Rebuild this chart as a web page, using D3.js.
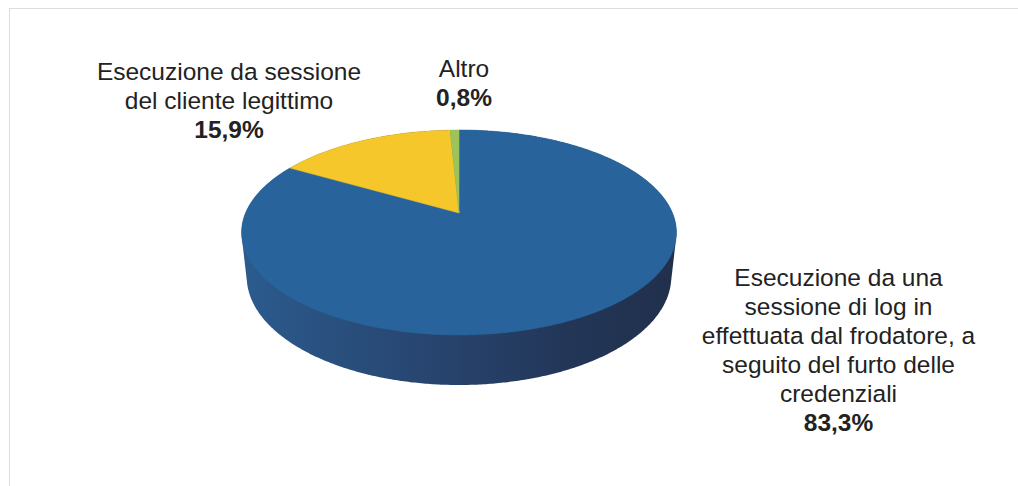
<!DOCTYPE html>
<html>
<head>
<meta charset="utf-8">
<script src="https://cdn.jsdelivr.net/npm/d3@7"></script>
<style>
  html, body { margin: 0; padding: 0; background: #ffffff; }
  svg { display: block; }
</style>
</head>
<body>
<svg id="chart" width="1018" height="486"></svg>
<script>
// ---- data ----
const categories = [
  "Esecuzione da una sessione di log in effettuata dal frodatore, a seguito del furto delle credenziali",
  "Esecuzione da sessione del cliente legittimo",
  "Altro"
];
const values = [83.3, 15.9, 0.8];
const valueLabels = ["83,3%", "15,9%", "0,8%"];
const labelLines = [
  ["Esecuzione da una", "sessione di log in", "effettuata dal frodatore, a", "seguito del furto delle", "credenziali"],
  ["Esecuzione da sessione", "del cliente legittimo"],
  ["Altro"]
];

// ---- styles / layout (not data) ----
const colors = ["#28649b", "#f5c72b", "#9cc45a"];
const labelLayout = [
  { x: 838.5, y: 286, dy: 29 },
  { x: 229, y: 80, dy: 29 },
  { x: 464, y: 77, dy: 28.5 }
];

const svg = d3.select("#chart");

// frame
svg.append("rect")
  .attr("x", 9.5).attr("y", 8.5)
  .attr("width", 1200).attr("height", 1000)
  .attr("fill", "none").attr("stroke", "#dedede").attr("stroke-width", 1);

// perspective camera
const X0 = 459, Y0 = 213;
const F = 996, L = 4.666;
const sinT = 0.4628, cosT = Math.sqrt(1 - sinT * sinT);
const H = 0.2355;

function proj(phi, y) {
  const u = Math.sin(phi), v = -Math.cos(phi);
  const depth = L - y * sinT - v * cosT;
  return [X0 + F * u / depth, Y0 + F * (v * sinT - y * cosT) / depth];
}

const pie = d3.pie().sort(null).value(d => d.value).startAngle(0).endAngle(2 * Math.PI);
const data = categories.map((c, i) => ({ name: c, value: values[i], i }));
const arcs = pie(data);

// side gradient
const defs = svg.append("defs");
const grad = defs.append("linearGradient")
  .attr("id", "sideGrad").attr("gradientUnits", "userSpaceOnUse")
  .attr("x1", 240).attr("y1", 0).attr("x2", 678).attr("y2", 0);
grad.append("stop").attr("offset", "0").attr("stop-color", "#2b5b8e");
grad.append("stop").attr("offset", "0.45").attr("stop-color", "#27446e");
grad.append("stop").attr("offset", "0.75").attr("stop-color", "#233658");
grad.append("stop").attr("offset", "1").attr("stop-color", "#212f4b");

// side wall: hull of top and bottom rim
const rimPts = [];
for (let a = 0; a < 720; a++) {
  const phi = a / 720 * 2 * Math.PI;
  rimPts.push(proj(phi, 0));
  rimPts.push(proj(phi, -H));
}
const hull = d3.polygonHull(rimPts);
svg.append("path")
  .attr("d", "M" + hull.map(p => p.join(",")).join("L") + "Z")
  .attr("fill", "url(#sideGrad)");

// top face slices
function slicePath(d) {
  const c = proj(0, 0);
  const center = [X0, Y0 + 0];
  const n = Math.max(2, Math.ceil((d.endAngle - d.startAngle) / (Math.PI / 360)));
  const pts = [];
  for (let k = 0; k <= n; k++) {
    const phi = d.startAngle + (d.endAngle - d.startAngle) * k / n;
    pts.push(proj(phi, 0));
  }
  return "M" + center.join(",") + "L" + pts.map(p => p.join(",")).join("L") + "Z";
}
svg.append("g").selectAll("path")
  .data(arcs)
  .join("path")
  .attr("d", slicePath)
  .attr("fill", d => colors[d.data.i])
  .attr("stroke", d => colors[d.data.i])
  .attr("stroke-width", 0.5)
  .attr("stroke-linejoin", "round");

// labels
const lab = svg.append("g")
  .attr("font-family", "'Liberation Sans', Arial, Helvetica, sans-serif")
  .attr("font-size", "24.5px")
  .attr("fill", "#222")
  .attr("text-anchor", "middle");

arcs.forEach(d => {
  const i = d.data.i;
  const lay = labelLayout[i];
  const t = lab.append("text");
  const lines = labelLines[i];
  lines.forEach((ln, j) => {
    t.append("tspan").attr("x", lay.x).attr("y", lay.y + j * lay.dy).text(ln);
  });
  lab.append("text")
    .attr("x", lay.x)
    .attr("y", lay.y + lines.length * lay.dy)
    .attr("font-weight", "bold")
    .text(valueLabels[i]);
});
</script>
</body>
</html>
